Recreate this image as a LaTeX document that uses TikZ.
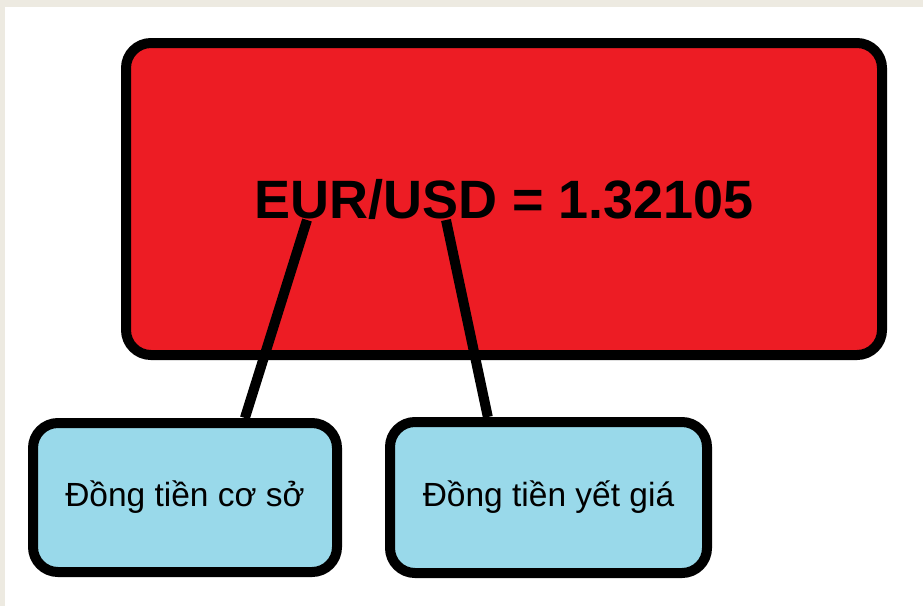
\documentclass[tikz,border=0pt]{standalone}
\usepackage{fontspec}
\setmainfont{Liberation Sans}
\usepackage{tikz}

\definecolor{paintred}{HTML}{ED1C24}
\definecolor{paintblue}{HTML}{99D9EA}
\definecolor{frame}{HTML}{EDEAE1}

\begin{document}
\begin{tikzpicture}[x=1pt, y=-1pt,
	box/.style={rectangle, draw, line width=10pt, rounded corners=25pt, align=center},
	link/.style={line width=10pt}]
	\useasboundingbox (0,0) rectangle (923,606);
	\fill[frame] (0,0) rectangle (923,606);
	\fill[white] (5,7) rectangle (923,606);
	\node (pair) at (504,199) [box, fill=paintred, minimum width=756pt, minimum height=312pt] {\fontsize{54}{60}\selectfont\bfseries EUR/USD = 1.32105};
		\node (cs) at (185,497.5) [box, fill=paintblue, minimum width=304pt, minimum height=149pt] {\fontsize{33.5}{38}\selectfont Đồng tiền cơ sở};
		\node (qt) at (548.5,497.5) [box, fill=paintblue, minimum width=317pt, minimum height=151pt] {\fontsize{33.5}{38}\selectfont Đồng tiền yết giá};
	\coordinate (base) at (307,220);
	\coordinate (quote) at (446,220);
	\draw[link] (base) to (cs.53);
	\draw[link] (quote) to (qt.127);
\end{tikzpicture}
\end{document}
